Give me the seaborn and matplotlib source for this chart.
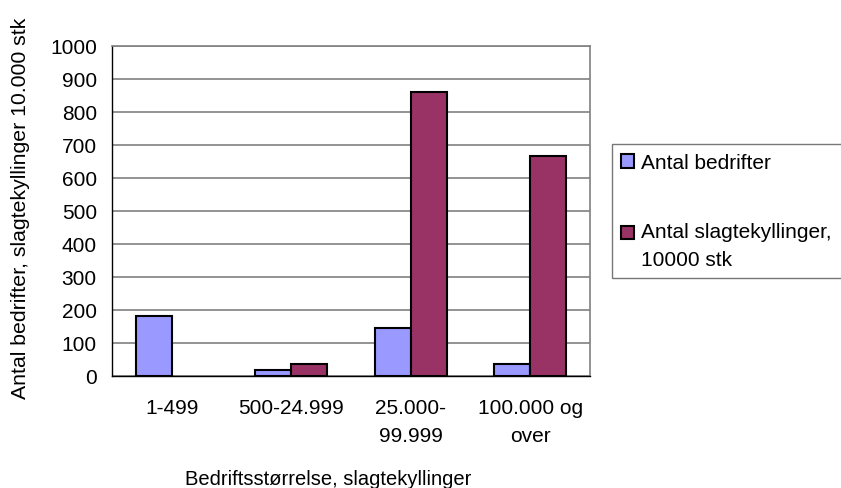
import numpy as np
import pandas as pd
import matplotlib
matplotlib.use("Agg")
import matplotlib.pyplot as plt
from matplotlib.patches import Patch, Rectangle
from matplotlib.legend_handler import HandlerPatch
import seaborn as sns

categories = ["1-499", "500-24.999", "25.000-\n99.999", "100.000 og\nover"]
series_names = ["Antal bedrifter", "Antal slagtekyllinger,\n10000 stk"]
bedrifter = [182, 17, 145, 36]
kyllinger = [np.nan, 36, 860, 665]
colors = ["#9999FF", "#993366"]

df = pd.DataFrame({
    "kategori": categories * 2,
    "serie": [series_names[0]] * 4 + [series_names[1]] * 4,
    "vaerdi": bedrifter + kyllinger,
})

sns.set_style("white")
plt.rcParams["font.family"] = ["Liberation Sans", "DejaVu Sans"]
plt.rcParams["text.color"] = "black"
plt.rcParams["xtick.color"] = "black"
plt.rcParams["ytick.color"] = "black"

fs = 15

fig = plt.figure(figsize=(8.41, 4.89), dpi=100)
ax = fig.add_axes([0.133, 0.2297, 0.5685, 0.6748])

sns.barplot(data=df, x="kategori", y="vaerdi", hue="serie", order=categories,
            hue_order=series_names, palette=colors, saturation=1, width=0.6, gap=0,
            edgecolor="black", linewidth=1.5, ax=ax, zorder=3, legend=False)

ax.set_xlim(-0.5, 3.5)
ax.set_ylim(0, 1000)
ax.set_yticks(range(0, 1001, 100))
ax.yaxis.grid(True, color="#808080", linewidth=1.2, zorder=0)
ax.set_axisbelow(True)

ax.set_xticks(range(4))
ax.set_xticklabels(categories, fontsize=fs)
for t in ax.get_xticklabels():
    t.set_linespacing(1.6)
ax.set_xticks(np.arange(-0.5, 4, 1), minor=True)
ax.tick_params(axis="x", which="major", length=0, pad=16)
ax.tick_params(axis="x", which="minor", length=4.3, width=1, color="black", direction="out")
ax.tick_params(axis="y", length=4.3, width=1, color="black", direction="out",
               labelsize=fs, pad=6.5)

for s in ["left", "bottom"]:
    ax.spines[s].set_color("black")
    ax.spines[s].set_linewidth(1)
for s in ["top", "right"]:
    ax.spines[s].set_color("#808080")
    ax.spines[s].set_linewidth(1.2)

ax.set_xlabel("")
ax.set_ylabel("")
fig.text(328 / 841, 1 - 470 / 489, "Bedriftsstørrelse, slagtekyllinger",
         fontsize=14.5, ha="center", va="top")
fig.text(21 / 841, 1 - 208 / 489, "Antal bedrifter, slagtekyllinger 10.000 stk",
         fontsize=15.3, ha="center", va="center", rotation=90)


def top_aligned(legend, orig_handle, xdescent, ydescent, width, height, fontsize):
    # put the square beside the first line of a two-line label
    return Rectangle((-xdescent, -ydescent + 0.62 * fontsize), width, height)


handles = [Patch(facecolor=c, edgecolor="black", linewidth=1.5) for c in colors]
leg = fig.legend(handles, series_names, loc="upper left",
                 bbox_to_anchor=(612 / 841, 1 - 145 / 489, 0.3, 0.0), mode="expand",
                 handler_map={handles[1]: HandlerPatch(patch_func=top_aligned)},
                 fontsize=fs, frameon=True, fancybox=False, edgecolor="#555555",
                 handlelength=0.6, handleheight=0.6, handletextpad=0.35,
                 labelspacing=2.4, borderpad=0.45, borderaxespad=0)
leg.get_frame().set_linewidth(1)
for t in leg.get_texts():
    t.set_linespacing(1.55)

fig.savefig("out.png", dpi=100)
